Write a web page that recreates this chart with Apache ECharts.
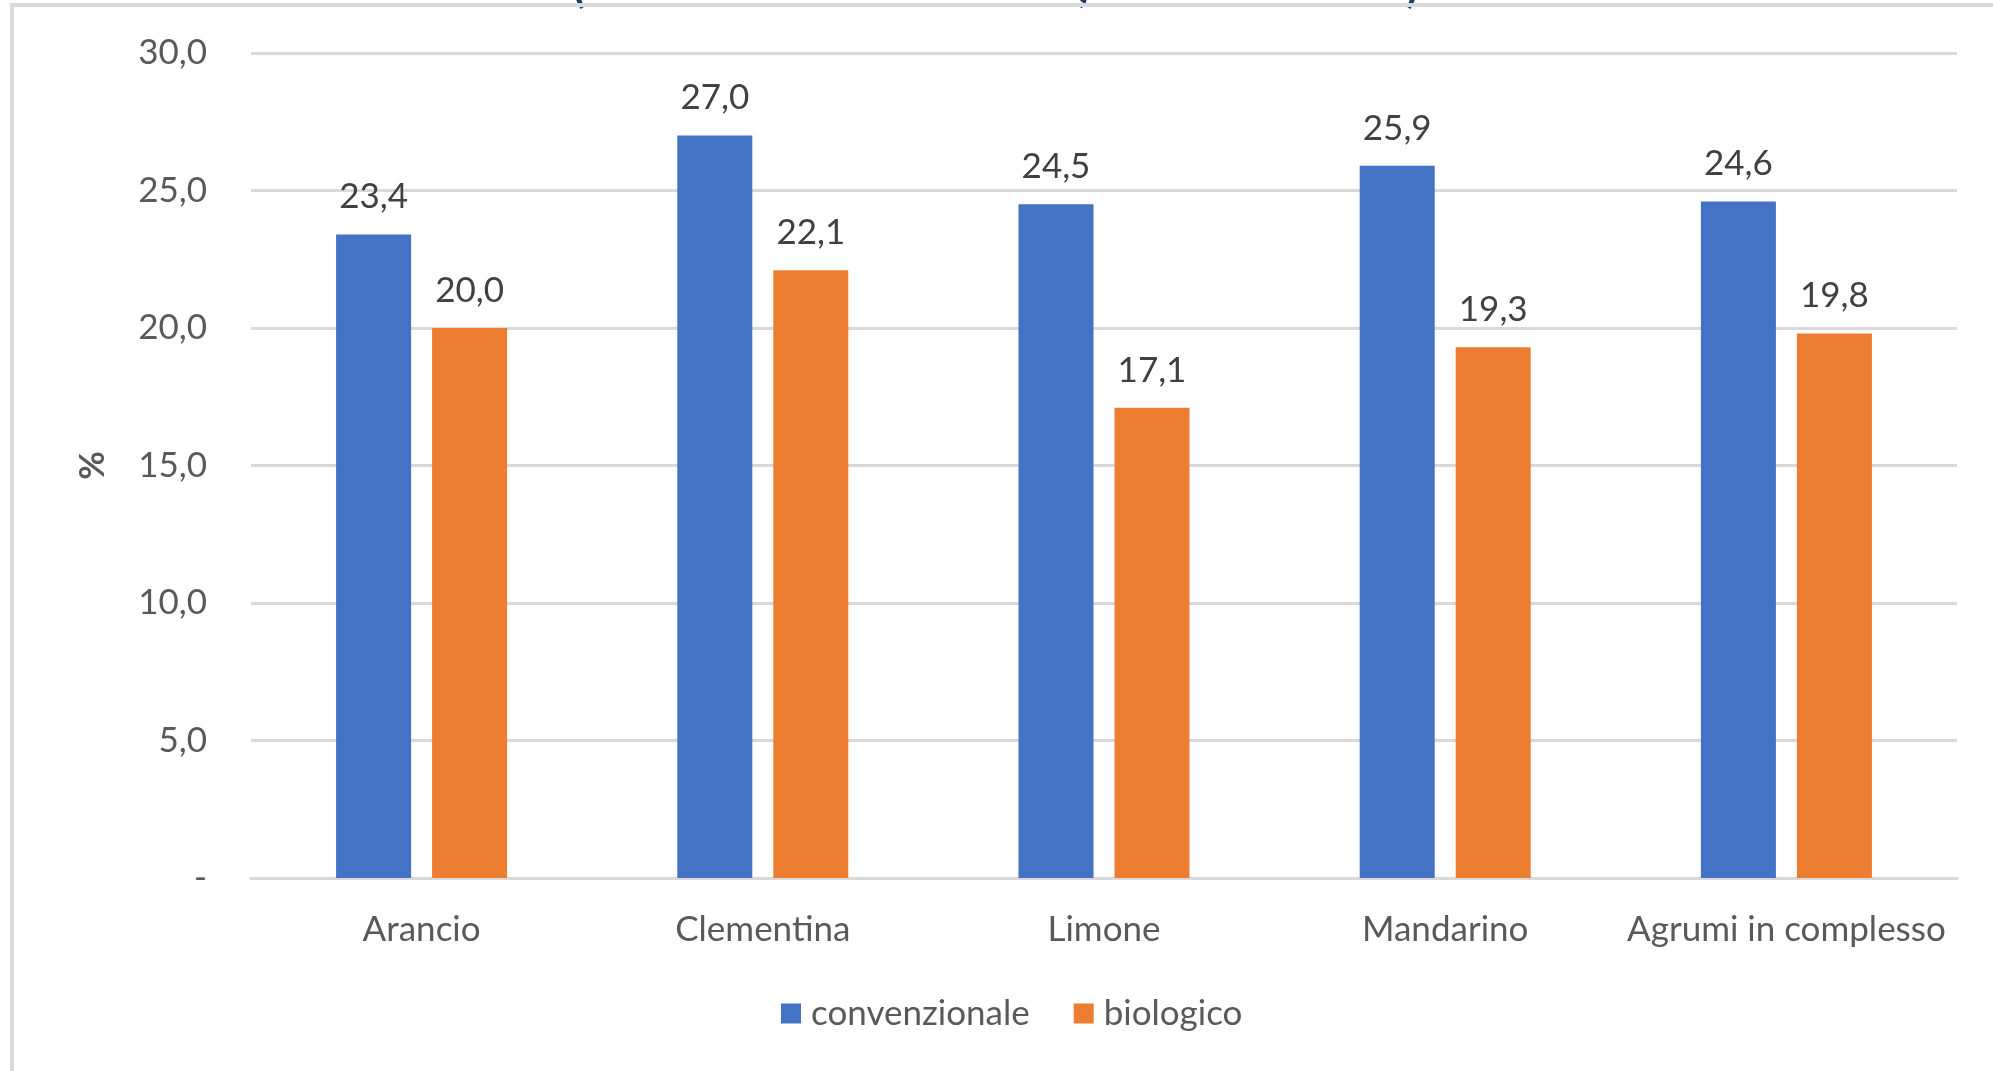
<!DOCTYPE html>
<html>
<head>
<meta charset="utf-8">
<script src="https://cdn.jsdelivr.net/npm/echarts@6/dist/echarts.min.js"></script>
<style>
  html, body { margin: 0; padding: 0; background: #fff; }
  #chart { width: 1993px; height: 1071px; }
</style>
</head>
<body>
<div id="chart"></div>
<script>
// dati
const categories = ['Arancio', 'Clementina', 'Limone', 'Mandarino', 'Agrumi in complesso']
const convenzionale = [23.4, 27.0, 24.5, 25.9, 24.6]
const biologico = [20.0, 22.1, 17.1, 19.3, 19.8]
const seriesNames = ['convenzionale', 'biologico']
const yTicks = [0, 5, 10, 15, 20, 25, 30]

const fmt = (v) => v === 0 ? '-' : v.toFixed(1).replace('.', ',')
const font = 'Lato'

const chart = echarts.init(document.getElementById('chart'))

const option = {
    backgroundColor: '#fff',
    textStyle: { fontFamily: font },
    color: ['#4472C4', '#ED7D31'],
    animation: false,
    grid: { left: 251, right: 36, top: 53, bottom: 193 },
    legend: {
        data: seriesNames,
        left: 776,
        top: 991,
        icon: 'rect',
        itemWidth: 20,
        itemHeight: 20,
        itemGap: 44,
        textStyle: { fontFamily: font, fontSize: 35, color: '#595959', padding: [0, 0, 0, 5] },
    },
    xAxis: {
        type: 'category',
        data: categories,
        axisLine: { lineStyle: { color: '#D9D9D9', width: 3 } },
        axisTick: { show: false },
        axisLabel: { fontFamily: font, fontSize: 35, color: '#595959', margin: 34, interval: 0 },
    },
    yAxis: {
        type: 'value',
        min: yTicks[0],
        max: yTicks[yTicks.length - 1],
        interval: 5,
        name: '%',
        nameLocation: 'middle',
        nameGap: 141,
        nameRotate: 90,
        nameTextStyle: { fontFamily: font, fontSize: 35, color: '#595959', fontWeight: 'bold' },
        axisLine: { show: false },
        axisTick: { show: false },
        axisLabel: { fontFamily: font, fontSize: 35, color: '#595959', margin: 44, formatter: fmt },
        splitLine: { lineStyle: { color: '#D9D9D9', width: 3 } },
    },
    series: [
        {
            name: seriesNames[0],
            type: 'bar',
            data: convenzionale,
            barWidth: 75,
            barGap: '28%',
            label: { show: true, position: 'top', distance: 20, fontFamily: font, fontSize: 35, color: '#404040', formatter: (p) => fmt(p.value) },
        },
        {
            name: seriesNames[1],
            type: 'bar',
            data: biologico,
            barWidth: 75,
            label: { show: true, position: 'top', distance: 20, fontFamily: font, fontSize: 35, color: '#404040', formatter: (p) => fmt(p.value) },
        },
    ],
    graphic: [
        // frammenti del titolo tagliato in alto
        { type: 'text', left: 573, top: -34, style: { text: '(', font: 'bold 44px ' + font, fill: '#1F3864' } },
        { type: 'text', left: 1078, top: -34, style: { text: ',', font: 'bold 44px ' + font, fill: '#1F3864' } },
        { type: 'text', left: 1406, top: -34, style: { text: ')', font: 'bold 44px ' + font, fill: '#1F3864' } },
        // bordo
        { type: 'rect', shape: { x: 12, y: 5, width: 2100, height: 2000 }, style: { fill: 'none', stroke: '#D9D9D9', lineWidth: 4 }, z: 10 },
    ],
}
chart.setOption(option)
</script>
</body>
</html>
